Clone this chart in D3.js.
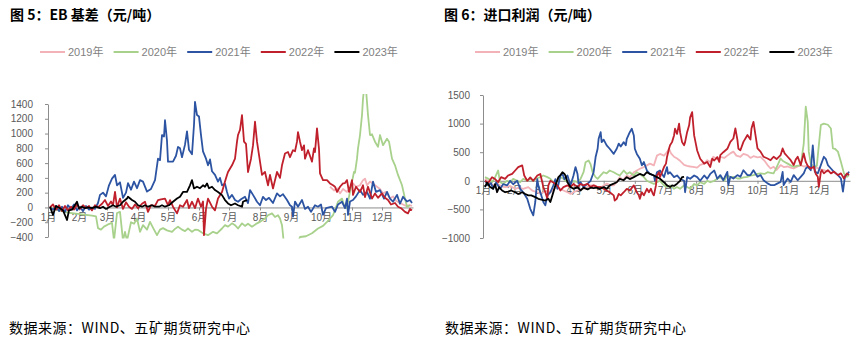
<!DOCTYPE html>
<html><head><meta charset="utf-8">
<script src="https://cdn.jsdelivr.net/npm/d3@7"></script>
<style>
html,body{margin:0;padding:0;background:#fff;}
svg{display:block;}
</style></head>
<body>
<script>
// ---------- shared categories ----------
const seriesNames = ["2019年","2020年","2021年","2022年","2023年"];
const seriesColors = ["#f2b2b8","#a8d18c","#2c54a2","#c0202b","#000000"];
const monthLabels = ["1月","2月","3月","4月","5月","6月","7月","8月","9月","10月","11月","12月"];
const monthStartDays = [0,31,59,90,120,151,181,212,243,273,304,334];

// ---------- Fig 5: EB basis (yuan/ton), [day of year, value] ----------
const ebTicks = [-400,-200,0,200,400,600,800,1000,1200,1400];
const eb2019 = [[282,280],[286,230],[289,260],[292,190],[295,250],[299,210],[302,260],[305,325],[308,280],[312,300],[315,370],[317,390],[319,300],[322,350],[325,320],[329,280],[332,250],[335,190],[338,210],[342,120],[345,150],[348,90],[352,60],[355,40],[358,20],[362,30],[364,20]];
const eb2020 = [[2,0],[8,-30],[14,-50],[20,-70],[26,-80],[32,-90],[38,-100],[44,-110],[48,-120],[50,-280],[53,-300],[56,-260],[60,-230],[64,-210],[66,-450],[69,-75],[72,-60],[75,-450],[77,-330],[79,-450],[83,-200],[86,-220],[89,-150],[92,-330],[95,-240],[99,-300],[102,-195],[106,-300],[109,-375],[112,-300],[115,-280],[119,-310],[124,-330],[127,-290],[130,-260],[134,-300],[137,-320],[140,-285],[144,-330],[147,-300],[150,-305],[155,-350],[160,-375],[165,-330],[169,-350],[174,-285],[177,-240],[180,-260],[184,-215],[187,-240],[190,-285],[194,-215],[197,-250],[200,-220],[204,-260],[209,-215],[212,-195],[217,-150],[220,-105],[224,-80],[227,-130],[230,-105],[232,-150],[234,-240],[236,-500],[249,-500],[252,-400],[258,-390],[264,-350],[270,-285],[275,-250],[279,-195],[282,-150],[285,-105],[287,-35],[290,77],[294,120],[296,30],[298,-10],[300,77],[304,350],[306,480],[307,470],[309,660],[310,800],[312,980],[314,1250],[315,1470],[316,1600],[318,1600],[320,1250],[322,980],[324,990],[327,890],[330,820],[332,980],[335,843],[339,930],[341,890],[344,660],[347,570],[350,440],[354,300],[357,120],[359,10],[362,30]];
const eb2021 = [[2,0],[5,-30],[8,20],[11,-50],[14,10],[17,-60],[20,30],[23,-20],[26,40],[29,-40],[32,10],[35,-50],[38,20],[41,-30],[44,0],[47,-20],[50,60],[52,170],[55,200],[58,150],[61,300],[64,390],[67,440],[69,300],[72,340],[75,130],[78,200],[80,330],[83,240],[86,350],[89,260],[92,370],[95,350],[99,215],[103,250],[107,370],[110,660],[112,640],[114,980],[116,960],[117,1180],[119,900],[120,620],[125,620],[128,700],[130,820],[132,800],[134,680],[137,850],[139,1030],[141,780],[144,720],[146,1120],[147,1430],[149,1250],[151,1230],[153,980],[155,760],[158,660],[160,570],[162,650],[164,490],[167,440],[170,350],[172,400],[174,300],[177,320],[179,210],[181,120],[184,170],[187,100],[190,77],[193,110],[197,144],[200,60],[202,235],[205,170],[209,77],[212,30],[215,144],[218,100],[221,130],[225,60],[229,190],[232,150],[235,180],[239,100],[242,30],[244,10],[245,-125],[247,80],[250,10],[254,100],[257,-20],[260,10],[263,-60],[267,30],[270,10],[273,40],[275,-100],[278,-10],[284,10],[287,-60],[290,40],[294,77],[297,-10],[299,120],[300,-100],[302,80],[305,100],[308,150],[312,235],[315,170],[319,210],[322,120],[325,350],[328,210],[332,235],[336,120],[339,210],[342,120],[345,77],[349,170],[352,50],[355,144],[359,80],[362,100],[364,60]];
const eb2022 = [[2,0],[5,40],[8,-30],[11,30],[14,-50],[17,20],[20,-40],[23,10],[26,-30],[29,40],[32,-20],[35,30],[38,-10],[41,20],[44,-40],[47,30],[50,0],[54,50],[57,100],[60,20],[63,80],[65,30],[67,210],[69,0],[72,120],[75,-20],[78,70],[81,10],[84,-20],[87,40],[90,-10],[94,50],[97,77],[100,-60],[103,30],[107,20],[110,100],[113,110],[117,120],[120,30],[122,100],[125,10],[129,-80],[132,30],[135,10],[139,100],[141,-10],[144,77],[147,-10],[150,120],[153,10],[155,80],[156,-375],[158,-20],[160,120],[164,10],[167,-40],[170,120],[174,210],[177,350],[179,440],[180,480],[184,570],[187,660],[189,890],[190,980],[192,1050],[194,1250],[196,890],[198,860],[200,480],[203,660],[205,840],[207,1160],[209,890],[212,620],[214,440],[217,480],[220,300],[222,440],[225,257],[229,480],[232,400],[234,570],[237,730],[240,750],[242,680],[245,775],[247,760],[249,890],[250,1020],[252,890],[254,775],[256,840],[257,660],[260,775],[264,620],[266,800],[267,750],[269,1070],[271,790],[272,460],[275,370],[279,370],[282,325],[285,300],[287,280],[289,210],[292,280],[295,325],[297,330],[299,370],[301,210],[304,370],[305,170],[308,280],[312,210],[315,300],[317,140],[320,280],[324,120],[327,190],[330,130],[334,190],[337,130],[340,100],[343,40],[347,60],[350,10],[353,-10],[357,-60],[360,-80],[362,-20],[364,-40]];
const eb2023 = [[2,10],[5,-100],[8,20],[12,-10],[15,-40],[19,-170],[21,-40],[24,-30],[29,77],[31,-10],[34,10],[37,-10],[40,0],[44,-10],[48,10],[52,-10],[55,10],[58,-20],[62,10],[65,30],[68,10],[72,30],[75,77],[79,120],[80,144],[84,100],[87,77],[90,30],[94,10],[97,30],[100,10],[104,30],[107,10],[111,10],[114,30],[117,10],[121,30],[125,77],[129,120],[132,144],[135,210],[139,210],[142,300],[144,370],[146,257],[149,280],[152,260],[155,300],[157,280],[159,325],[161,260],[164,280],[167,235],[170,210],[174,167],[177,100],[180,54],[183,30],[187,54],[190,30],[194,10],[195,77],[197,90],[199,100]];

// ---------- Fig 6: import profit (yuan/ton), [day of year, value] ----------
const profitTicks = [-1000,-500,0,500,1000,1500];
const ip2019 = [[2,35],[6,-20],[10,-80],[15,-60],[19,-100],[22,-110],[27,-90],[32,-140],[36,-120],[40,-140],[45,-110],[49,-170],[54,-200],[57,-230],[60,-200],[64,-170],[67,-200],[71,-140],[74,-110],[77,-140],[80,-170],[84,-200],[87,-230],[90,-200],[94,-170],[97,-140],[100,-140],[104,-110],[107,-80],[111,-80],[114,-110],[117,-120],[120,-80],[123,-50],[127,-80],[130,-80],[133,-25],[136,64],[139,10],[143,93],[146,60],[150,150],[153,180],[156,210],[160,240],[163,270],[166,300],[170,270],[173,440],[176,470],[180,440],[183,500],[185,560],[187,480],[190,420],[193,390],[196,350],[200,280],[203,260],[206,250],[209,245],[213,230],[216,280],[220,300],[223,360],[226,330],[229,420],[233,380],[236,420],[240,400],[243,440],[246,480],[249,510],[252,440],[256,420],[259,470],[263,450],[266,400],[269,430],[273,410],[276,420],[280,350],[283,275],[286,215],[289,245],[292,190],[296,275],[299,240],[303,250],[306,230],[309,215],[313,250],[316,275],[319,250],[323,260],[326,230],[329,245],[333,220],[336,200],[339,187],[343,160]];
const ip2020 = [[2,64],[6,30],[9,-25],[12,60],[15,180],[17,-25],[20,-50],[24,0],[27,-25],[30,35],[34,0],[37,-25],[40,35],[44,0],[47,35],[50,0],[54,45],[57,64],[60,93],[64,64],[67,35],[70,-25],[74,0],[77,64],[80,35],[84,-25],[87,-50],[90,0],[94,-25],[97,35],[100,150],[102,325],[105,355],[107,290],[109,150],[112,64],[114,35],[117,93],[120,150],[123,130],[126,180],[130,150],[133,120],[136,93],[140,180],[143,120],[146,150],[150,93],[153,150],[156,120],[160,64],[163,0],[166,-25],[170,-55],[173,-25],[176,0],[180,-80],[183,-110],[186,-80],[190,-140],[193,-110],[196,-140],[200,-80],[203,-110],[206,-140],[210,-55],[213,-80],[216,-25],[220,-55],[223,0],[226,-25],[230,0],[233,35],[236,64],[240,0],[243,100],[246,60],[249,70],[253,40],[256,40],[259,60],[263,70],[266,90],[269,100],[273,120],[276,130],[280,120],[283,150],[286,140],[289,130],[291,200],[293,275],[296,390],[298,350],[300,330],[303,300],[306,270],[309,245],[312,260],[316,270],[319,650],[321,1295],[323,1030],[324,510],[326,300],[329,245],[332,260],[334,620],[336,975],[339,1000],[343,980],[346,915],[348,565],[350,560],[353,510],[356,330],[359,130],[362,70],[364,100]];
const ip2021 = [[2,0],[5,-80],[8,-40],[10,-140],[13,-30],[17,-140],[20,-60],[24,-80],[27,0],[30,-60],[34,0],[37,-140],[40,-200],[44,-315],[47,-490],[50,-605],[52,-370],[54,30],[55,-80],[57,-200],[60,-370],[62,-430],[64,-260],[67,-200],[70,-80],[72,30],[74,-140],[77,93],[79,120],[81,30],[84,93],[87,-80],[90,93],[92,240],[94,120],[95,-50],[97,-25],[100,-110],[104,-50],[107,0],[110,150],[112,415],[114,560],[115,735],[117,850],[118,676],[120,720],[123,620],[126,560],[130,470],[133,560],[135,650],[137,600],[140,676],[142,620],[143,735],[146,850],[148,910],[150,793],[151,560],[153,470],[156,385],[158,270],[160,330],[163,180],[166,120],[170,93],[171,0],[173,150],[176,180],[180,64],[183,240],[184,120],[186,150],[190,64],[193,93],[196,35],[200,0],[201,-200],[203,64],[206,35],[210,93],[213,64],[216,0],[220,93],[223,35],[226,120],[230,180],[233,35],[236,100],[239,10],[243,157],[244,-75],[246,70],[249,40],[253,100],[256,70],[259,185],[263,100],[266,100],[269,185],[273,70],[276,100],[279,10],[283,-45],[286,-75],[290,-75],[293,-45],[296,-20],[298,157],[299,-75],[303,40],[306,-20],[309,100],[313,10],[316,70],[319,130],[321,215],[323,245],[326,185],[328,620],[330,160],[333,130],[336,275],[339,420],[341,380],[343,275],[346,215],[349,157],[353,100],[356,40],[358,-190],[360,80],[363,130],[364,160]];
const ip2022 = [[2,0],[5,-40],[9,64],[12,30],[15,-25],[18,64],[22,35],[25,93],[29,120],[32,180],[35,240],[39,270],[41,93],[44,0],[47,60],[50,0],[54,93],[57,120],[59,-30],[60,-110],[62,-200],[64,-315],[65,-80],[67,0],[70,-30],[74,-80],[77,-170],[80,-110],[84,-80],[87,-110],[90,-55],[94,-110],[97,-55],[100,-80],[104,-55],[107,-110],[110,-80],[114,-110],[117,-110],[120,-140],[123,-170],[126,-200],[130,-255],[131,-345],[133,-315],[135,-230],[137,-255],[140,-200],[143,-140],[146,-170],[150,-80],[153,-200],[155,-255],[156,-315],[158,-200],[160,-255],[163,-140],[165,-200],[167,-140],[169,-230],[170,-255],[172,-80],[173,93],[175,150],[176,64],[178,150],[180,240],[182,300],[183,415],[185,560],[186,620],[188,676],[190,793],[191,910],[193,820],[195,1000],[196,850],[198,676],[200,620],[201,676],[203,850],[205,970],[206,1110],[208,1200],[210,793],[212,620],[213,530],[216,385],[220,300],[223,330],[226,240],[228,385],[230,355],[233,415],[235,330],[236,450],[239,500],[243,560],[246,680],[249,740],[251,915],[253,720],[254,560],[256,535],[259,680],[263,800],[266,720],[267,915],[269,1030],[271,800],[273,565],[276,510],[279,420],[283,390],[286,360],[289,420],[292,380],[296,450],[298,565],[300,480],[303,420],[306,360],[309,275],[311,370],[313,420],[316,275],[319,480],[321,330],[323,260],[326,215],[329,245],[331,120],[333,70],[334,-105],[336,150],[337,187],[339,130],[343,187],[346,130],[349,160],[353,100],[356,130],[358,70],[359,40],[362,130],[364,100]];
const ip2023 = [[2,-110],[4,-30],[7,-110],[10,-140],[12,-60],[14,-200],[16,-110],[19,-170],[22,-200],[25,-190],[28,-170],[32,-200],[35,-230],[39,-200],[42,-230],[45,-255],[48,-255],[52,-285],[55,-315],[58,-330],[62,-345],[65,-315],[67,-370],[69,-255],[72,-80],[75,64],[77,100],[79,150],[81,120],[82,93],[84,-25],[87,-110],[90,-140],[94,-110],[97,-170],[100,-120],[104,-150],[107,-120],[110,-130],[113,-120],[116,-140],[120,-110],[123,-140],[126,-80],[130,-50],[133,-25],[136,35],[140,10],[143,64],[146,30],[150,64],[153,93],[156,120],[160,93],[163,150],[166,120],[170,93],[173,64],[176,35],[180,-25],[183,-80],[186,-110],[188,-80],[190,-90],[193,-50],[196,0],[198,64],[200,70]];

const footerText = "数据来源：WIND、五矿期货研究中心";

// ---------- drawing ----------
const W = 861, H = 339;
const svg = d3.select("body").append("svg").attr("width", W).attr("height", H);
const LAT = "'Liberation Sans', Arial, 'Noto Sans CJK SC', sans-serif";
const CJK = "'Noto Sans CJK SC', sans-serif";
const axisColor = "#8c8c8c";
const labelColor = "#595959";

function drawPanel(cfg, idx) {
  const g = svg.append("g");
  const x = d3.scaleLinear().domain([0, 365]).range([cfg.x0, cfg.x1]);
  const y = d3.scaleLinear().domain(cfg.yDomain).range(cfg.yRange);

  // title
  g.append("text").attr("x", cfg.titleX).attr("y", 20)
    .attr("font-family", CJK).attr("font-weight", "bold").attr("font-size", 14)
    .attr("fill", "#000").text(cfg.title);

  // legend
  seriesNames.forEach((n, i) => {
    const lx = cfg.legendX + i * 73.6;
    g.append("line").attr("x1", lx).attr("x2", lx + 25).attr("y1", 52).attr("y2", 52)
      .attr("stroke", seriesColors[i]).attr("stroke-width", 2);
    g.append("text").attr("x", lx + 28).attr("y", 56)
      .attr("font-family", LAT).attr("font-size", 11).attr("fill", "#7f7f7f").text(n);
  });

  // y axis
  const yAxis = d3.axisLeft(y).tickValues(cfg.ticks).tickSize(3).tickSizeOuter(0)
    .tickPadding(cfg.tickPad).tickFormat(d3.format("d"));
  const ya = g.append("g").attr("transform", `translate(${cfg.x0},0)`).call(yAxis);
  ya.select(".domain").attr("stroke", axisColor);
  ya.selectAll(".tick line").attr("stroke", axisColor);
  ya.selectAll(".tick text").attr("font-family", LAT).attr("font-size", 10).attr("fill", labelColor);

  // x axis along zero line
  const xAxis = d3.axisBottom(x).tickValues(monthStartDays).tickSize(3).tickSizeOuter(0)
    .tickFormat((d, i) => monthLabels[i]).tickPadding(3);
  const xa = g.append("g").attr("transform", `translate(0,${y(0)})`).call(xAxis);
  xa.select(".domain").attr("stroke", axisColor);
  xa.selectAll(".tick line").attr("stroke", axisColor);
  xa.selectAll(".tick text").attr("font-family", LAT).attr("font-size", 10).attr("fill", labelColor);

  // clip
  const cid = "clip" + idx;
  svg.append("clipPath").attr("id", cid).append("rect")
    .attr("x", cfg.x0).attr("y", cfg.clipTop).attr("width", cfg.x1 - cfg.x0 + 4)
    .attr("height", cfg.clipBottom - cfg.clipTop);

  const line = d3.line().x(d => x(d[0])).y(d => y(d[1])).curve(d3.curveLinear);
  const lg = g.append("g").attr("clip-path", `url(#${cid})`);
  cfg.series.forEach((s, i) => {
    lg.append("path").datum(s).attr("d", line).attr("fill", "none")
      .attr("stroke", seriesColors[i]).attr("stroke-width", 1.8)
      .attr("stroke-linejoin", "round");
  });

  // footer
  g.append("text").attr("x", cfg.footerX).attr("y", 333)
    .attr("font-family", CJK).attr("font-size", 14).attr("fill", "#000")
    .attr("textLength", 241).attr("lengthAdjust", "spacing").text(footerText);
}

drawPanel({
  title: "图 5：EB 基差（元/吨）", titleX: 10, legendX: 40,
  x0: 48, x1: 413, yDomain: [-400, 1400], yRange: [237, 104],
  ticks: ebTicks, tickPad: 12, clipTop: 94, clipBottom: 238.5,
  series: [eb2019, eb2020, eb2021, eb2022, eb2023], footerX: 9
}, 0);

drawPanel({
  title: "图 6：进口利润（元/吨）", titleX: 444, legendX: 475,
  x0: 483, x1: 850, yDomain: [-1000, 1500], yRange: [238, 95],
  ticks: profitTicks, tickPad: 10, clipTop: 94, clipBottom: 239,
  series: [ip2019, ip2020, ip2021, ip2022, ip2023], footerX: 445
}, 1);
</script>
</body></html>
